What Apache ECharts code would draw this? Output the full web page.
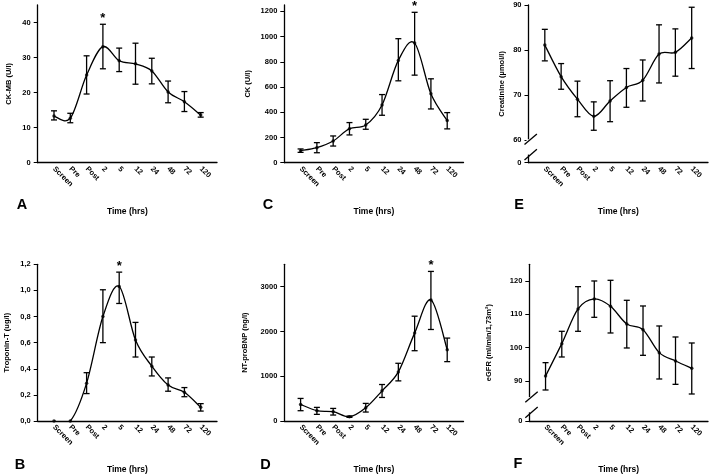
<!DOCTYPE html>
<html><head><meta charset="utf-8">
<script src="https://cdn.jsdelivr.net/npm/echarts@6/dist/echarts.min.js"></script>
<style>html,body{margin:0;padding:0;background:#fff}#c{width:714px;height:476px}</style>
</head><body><div id="c"></div>
<script>
// ---------- data ----------
const categories = ['Screen','Pre','Post','2','5','12','24','48','72','120'];

const ckmbMean = [13.3, 12.7, 25.0, 33.1, 29.1, 28.2, 26.2, 20.2, 17.4, 13.6];
const ckmbLow  = [12.2, 11.4, 19.6, 26.8, 26.0, 22.4, 22.5, 17.1, 14.6, 13.0];
const ckmbHigh = [14.8, 14.1, 30.5, 39.5, 32.7, 34.1, 29.8, 23.3, 20.3, 14.3];

const ckMean = [95, 119, 172, 270, 299, 458, 811, 948, 546, 334];
const ckLow  = [82, 79, 132, 220, 265, 376, 649, 694, 426, 268];
const ckHigh = [109, 159, 212, 318, 344, 540, 983, 1192, 665, 397];

const creatMean = [81.1, 74.1, 69.1, 65.3, 68.7, 71.7, 73.3, 79.1, 79.5, 82.7];
const creatLow  = [77.6, 71.3, 65.2, 62.2, 64.1, 67.3, 68.7, 72.7, 74.2, 75.9];
const creatHigh = [84.6, 77.0, 73.1, 68.5, 73.2, 75.9, 77.8, 85.6, 84.7, 89.5];

const tropMean = [0, 0, 0.29, 0.80, 1.03, 0.62, 0.42, 0.275, 0.22, 0.105];
const tropLow  = [0, 0, 0.21, 0.60, 0.90, 0.49, 0.345, 0.228, 0.186, 0.076];
const tropHigh = [0, 0, 0.37, 1.005, 1.14, 0.755, 0.49, 0.33, 0.256, 0.133];

const bnpMean = [370, 230, 207, 96, 296, 674, 1096, 1963, 2704, 1593];
const bnpLow  = [230, 148, 133, 81, 200, 526, 896, 1570, 2044, 1326];
const bnpHigh = [504, 304, 281, 111, 393, 815, 1289, 2341, 3341, 1852];

const egfrMean = [91.5, 101.2, 111.6, 114.6, 112.4, 107.1, 105.4, 98.5, 96.0, 93.8];
const egfrLow  = [87.3, 97.2, 104.9, 109.1, 104.4, 99.9, 97.7, 90.6, 89.0, 86.1];
const egfrHigh = [95.5, 104.9, 118.3, 120.0, 120.2, 114.2, 112.5, 106.5, 103.2, 101.4];

const ckmbTicks  = [0, 10, 20, 30, 40];
const ckTicks    = [0, 200, 400, 600, 800, 1000, 1200];
const creatTicks = [55, 60, 70, 80, 90];      // 55 is the broken-axis origin, labelled "0"
const tropTicks  = [0, 0.2, 0.4, 0.6, 0.8, 1.0, 1.2];
const bnpTicks   = [0, 1000, 2000, 3000];
const egfrTicks  = [78, 90, 100, 110, 120];   // 78 is the broken-axis origin, labelled "0"

// ---------- layout ----------
const FONT = 'Liberation Sans, Arial, sans-serif';
const panels = [
  {letter:'A', name:'CK-MB (U/l)', mean:ckmbMean, low:ckmbLow, high:ckmbHigh, ticks:ckmbTicks, min:0, max:45, star:3,
   grid:{left:37.7, top:5, width:179.3, height:157.7}, nameGap:25, letterPos:[22,205]},
  {letter:'C', name:'CK (U/l)', mean:ckMean, low:ckLow, high:ckHigh, ticks:ckTicks, min:0, max:1250, star:7,
   grid:{left:284.3, top:5, width:179.2, height:157.7}, nameGap:32, letterPos:[268,205]},
  {letter:'E', name:'Creatinine (\u00b5mol/l)', mean:creatMean, low:creatLow, high:creatHigh, ticks:creatTicks, min:55, max:90, star:-1,
   grid:{left:528.5, top:5, width:179.5, height:157.7}, nameGap:23, letterPos:[519,205], brk:[56.8, 60.2], zeroAt:55},
  {letter:'B', name:'Troponin-T (ug/l)', mean:tropMean, low:tropLow, high:tropHigh, ticks:tropTicks, min:0, max:1.2, star:4,
   grid:{left:37.7, top:264.3, width:179.3, height:156.7}, nameGap:27, letterPos:[20,465], comma:true},
  {letter:'D', name:'NT-proBNP (ng/l)', mean:bnpMean, low:bnpLow, high:bnpHigh, ticks:bnpTicks, min:0, max:3500, star:8,
   grid:{left:284.3, top:264.3, width:179.2, height:156.7}, nameGap:35, letterPos:[265.5,465]},
  {letter:'F', name:'eGFR (ml/min/1,73m\u00b2)', mean:egfrMean, low:egfrLow, high:egfrHigh, ticks:egfrTicks, min:78, max:125, star:-1,
   grid:{left:529.3, top:264.3, width:178.7, height:156.7}, nameGap:36, letterPos:[518,464], brk:[80.6, 85.2], zeroAt:78}
];

const grids = [], xAxes = [], yAxes = [], series = [], graphics = [];
panels.forEach((p, k) => {
  grids.push(Object.assign({containLabel:false}, p.grid));
  xAxes.push({
    gridIndex:k, type:'value', min:-1, max:10, interval:1,
    axisLine:{show:true, onZero:false, lineStyle:{color:'#000', width:1.3}},
    axisTick:{show:false}, splitLine:{show:false},
    axisLabel:{rotate:-45, margin:5, color:'#000', fontSize:7.5, fontWeight:'bold', fontFamily:FONT,
      formatter: v => { const i = Math.round(v); return (i >= 0 && i < categories.length) ? categories[i] : ''; }},
    name:'Time (hrs)', nameLocation:'middle', nameGap:44,
    nameTextStyle:{color:'#000', fontSize:8.5, fontWeight:'bold', fontFamily:FONT}
  });
  yAxes.push({
    gridIndex:k, type:'value', min:p.min, max:p.max,
    axisLine:{show:true, onZero:false, lineStyle:{color:'#000', width:1.3}},
    axisTick:{show:true, length:4, customValues:p.ticks, lineStyle:{color:'#000', width:1}},
    splitLine:{show:false},
    axisLabel:{customValues:p.ticks, margin:7, color:'#000', fontSize:7.5, fontWeight:'bold', fontFamily:FONT,
      formatter: v => {
        if (p.zeroAt !== undefined && Math.abs(v - p.zeroAt) < 1e-9) return '0';
        if (p.comma) return v.toFixed(1).replace('.', ',');
        return String(v);
      }},
    name:p.name, nameLocation:'middle', nameGap:p.nameGap,
    nameTextStyle:{color:'#000', fontSize:7.5, fontWeight:'bold', fontFamily:FONT}
  });
  // smoothed curve (Catmull-Rom style, like the original spreadsheet smoothing), drawn via the axes' scales
  const n = p.mean.length;
  series.push({
    type:'custom', xAxisIndex:k, yAxisIndex:k, animation:false, z:3, clip:true,
    data:p.mean.map((v, i) => [i, v]),
    encode:{x:0, y:1},
    renderItem:(params, api) => {
      const i = params.dataIndex;
      if (i >= n - 1) return null;
      const P = j => { j = Math.max(0, Math.min(n - 1, j)); return api.coord([j, p.mean[j]]); };
      const p0 = P(i - 1), p1 = P(i), p2 = P(i + 1), p3 = P(i + 2);
      return {type:'bezierCurve', shape:{
        x1:p1[0], y1:p1[1], x2:p2[0], y2:p2[1],
        cpx1:p1[0] + (p2[0] - p0[0]) / 6, cpy1:p1[1] + (p2[1] - p0[1]) / 6,
        cpx2:p2[0] - (p3[0] - p1[0]) / 6, cpy2:p2[1] - (p3[1] - p1[1]) / 6
      }, style:{stroke:'#000', lineWidth:1.3, fill:null}};
    }
  });
  series.push({
    type:'scatter', xAxisIndex:k, yAxisIndex:k, animation:false, z:5,
    data:p.mean.map((v, i) => [i, v]),
    symbol:'circle', symbolSize:3.5, itemStyle:{color:'#000'}
  });
  series.push({
    type:'custom', xAxisIndex:k, yAxisIndex:k, animation:false, z:4,
    data:p.low.map((l, i) => [i, l, p.high[i]]),
    encode:{x:0, y:[1, 2]},
    renderItem:(params, api) => {
      const x = api.value(0), lo = api.value(1), hi = api.value(2);
      const a = api.coord([x, lo]), b = api.coord([x, hi]);
      const st = {stroke:'#000', lineWidth:1.3};
      const ch = [];
      if (hi > lo) {
        ch.push({type:'line', shape:{x1:a[0], y1:a[1], x2:b[0], y2:b[1]}, style:st});
        ch.push({type:'line', shape:{x1:a[0]-3, y1:a[1], x2:a[0]+3, y2:a[1]}, style:st});
        ch.push({type:'line', shape:{x1:b[0]-3, y1:b[1], x2:b[0]+3, y2:b[1]}, style:st});
      }
      if (params.dataIndex === p.star) {
        ch.push({type:'text', x:b[0], y:b[1]-5.5, style:{text:'*', fill:'#000', font:'bold 13px ' + FONT, align:'center', verticalAlign:'middle'}});
      }
      return {type:'group', children:ch};
    }
  });
  graphics.push({type:'text', x:p.letterPos[0], y:p.letterPos[1],
    style:{text:p.letter, fill:'#000', font:'bold 14.5px ' + FONT, align:'center', verticalAlign:'middle'}});
});

const chart = echarts.init(document.getElementById('c'), null, {renderer:'canvas'});
chart.setOption({animation:false, backgroundColor:'#fff', grid:grids, xAxis:xAxes, yAxis:yAxes, series:series, graphic:graphics});

// broken-axis marks on panels E and F, placed through the axes' own scales
panels.forEach((p, k) => {
  if (!p.brk) return;
  const ax = chart.convertToPixel({xAxisIndex:k}, -1);
  const yLo = chart.convertToPixel({yAxisIndex:k}, p.brk[0]);
  const yHi = chart.convertToPixel({yAxisIndex:k}, p.brk[1]);
  graphics.push({type:'rect', z:50, shape:{x:ax-2, y:yHi, width:4, height:yLo-yHi}, style:{fill:'#fff'}});
  [yHi, yLo].forEach(y => graphics.push({type:'line', z:51,
    shape:{x1:ax-4, y1:y+5.3, x2:ax+8.4, y2:y-5.3}, style:{stroke:'#000', lineWidth:1.3}}));
});
chart.setOption({graphic:graphics});
</script></body></html>
